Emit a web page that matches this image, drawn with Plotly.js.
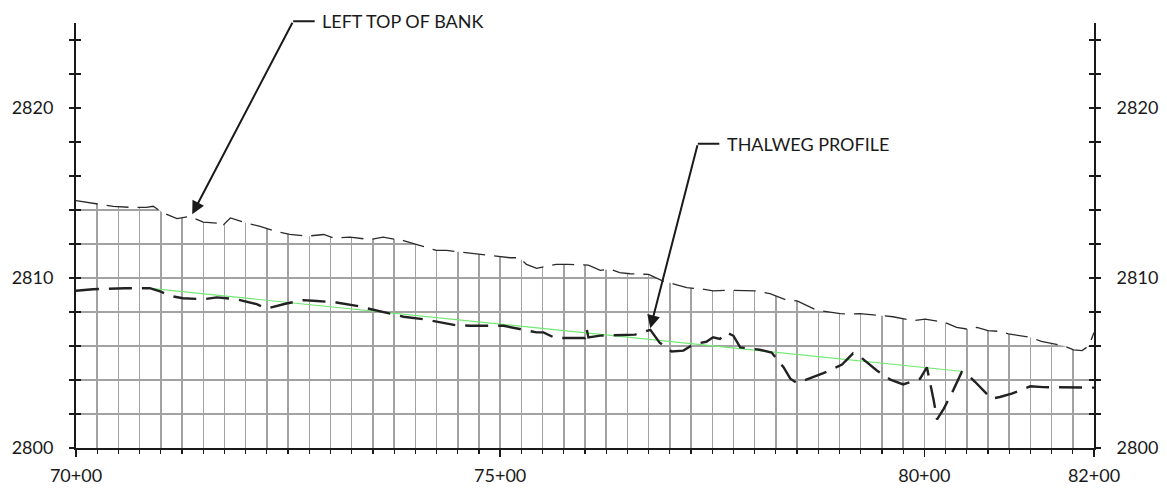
<!DOCTYPE html>
<html>
<head>
<meta charset="utf-8">
<script src="https://cdn.plot.ly/plotly-3.0.1.min.js"></script>
<style>
  html, body { margin: 0; padding: 0; background: #ffffff; }
  #chart { width: 1167px; height: 489px; }
</style>
</head>
<body>
<div id="chart"></div>
<script>
// ---------- DATA ----------
// Left top of bank profile: station (ft) and elevation (ft)
const tobStation = [7000, 7012, 7024, 7044, 7066, 7083, 7091, 7103, 7119, 7134, 7150, 7166, 7170, 7174, 7182,
  7201, 7217, 7238, 7252, 7272, 7292, 7303, 7323, 7347, 7362, 7386, 7402, 7425, 7437, 7461, 7474, 7500,
  7512, 7523, 7531, 7543, 7566, 7580, 7604, 7618, 7630, 7641, 7653, 7675, 7692, 7706, 7720, 7739, 7751,
  7767, 7781, 7802, 7818, 7838, 7850, 7873, 7901, 7910, 7924, 7950, 7963, 7987, 8001, 8024, 8038, 8050,
  8062, 8075, 8089, 8099, 8113, 8125, 8138, 8152, 8164, 8176, 8186, 8194, 8200];
const tobElev = [2814.55, 2814.45, 2814.35, 2814.21, 2814.15, 2814.15, 2814.22, 2813.82, 2813.49, 2813.63,
  2813.29, 2813.23, 2813.37, 2813.14, 2813.53, 2813.23, 2813.04, 2812.71, 2812.56, 2812.46, 2812.56,
  2812.36, 2812.40, 2812.26, 2812.40, 2812.20, 2811.97, 2811.62, 2811.62, 2811.48, 2811.42, 2811.29,
  2811.19, 2811.19, 2810.80, 2810.57, 2810.80, 2810.80, 2810.76, 2810.45, 2810.51, 2810.31, 2810.25,
  2810.21, 2809.82, 2809.63, 2809.43, 2809.34, 2809.24, 2809.28, 2809.28, 2809.24, 2809.08, 2808.70,
  2808.65, 2808.11, 2807.91, 2807.88, 2807.91, 2807.78, 2807.72, 2807.49, 2807.58, 2807.39, 2807.09,
  2807.00, 2807.09, 2806.90, 2806.86, 2806.71, 2806.61, 2806.51, 2806.27, 2806.12, 2806.02, 2805.77,
  2805.73, 2806.02, 2806.80];

// Thalweg profile: station (ft) and elevation (ft)
const thalwegStation = [7000, 7020, 7058, 7087, 7099, 7111, 7126, 7150, 7166, 7178, 7189, 7213, 7225, 7248,
  7268, 7284, 7307, 7331, 7347, 7370, 7386, 7409, 7425, 7447, 7464, 7504, 7523, 7543, 7551, 7557, 7565,
  7600, 7602, 7604, 7618, 7659, 7677, 7688, 7702, 7716, 7728, 7743, 7751, 7759, 7767, 7775, 7783, 7806,
  7820, 7834, 7842, 7850, 7866, 7881, 7903, 7916, 7926, 7944, 7960, 7975, 7995, 8003, 8011, 8015, 8023,
  8034, 8044, 8052, 8060, 8070, 8079, 8089, 8103, 8125, 8140, 8200];
const thalwegElev = [2809.25, 2809.34, 2809.40, 2809.40, 2809.22, 2808.95, 2808.81, 2808.75, 2808.86, 2808.81,
  2808.75, 2808.46, 2808.20, 2808.50, 2808.70, 2808.65, 2808.56, 2808.36, 2808.17, 2807.88, 2807.72,
  2807.58, 2807.42, 2807.23, 2807.19, 2807.19, 2807.00, 2806.80, 2806.80, 2806.67, 2806.47, 2806.47,
  2807.00, 2806.50, 2806.61, 2806.67, 2806.95, 2806.20, 2805.68, 2805.73, 2806.10, 2806.25, 2806.51,
  2806.41, 2806.80, 2806.60, 2805.92, 2805.78, 2805.62, 2804.75, 2804.08, 2803.82, 2804.13, 2804.40,
  2804.91, 2805.57, 2805.30, 2804.56, 2804.02, 2803.74, 2804.08, 2804.75, 2802.81, 2801.68, 2802.32,
  2803.39, 2804.46, 2804.27, 2803.88, 2803.39, 2802.90, 2803.00, 2803.20, 2803.63, 2803.58, 2803.55];

// Design grade line (green)
const designStation = [7085, 8046];
const designElev = [2809.40, 2804.50];

// Axis ticks / labels
const xRange = [7000, 8200];
const yRange = [2800, 2825];
const xTickVals = [7000, 7500, 8000, 8200];
const xTickText = ['70+00', '75+00', '80+00', '82+00'];
const yTickVals = [2800, 2810, 2820];
const yTickText = ['2800', '2810', '2820'];

// Callout labels
const calloutText = ['LEFT TOP OF BANK', 'THALWEG PROFILE'];
const calloutHead = [[7137, 2813.75], [7677, 2807.05]];
const calloutElbow = [[7256, 2825.1], [7733, 2817.9]];

// ---------- STYLE ----------
const ink = '#1a1a1a';
const gridCol = '#a2a2a2';
const fontFam = 'Lato, "Open Sans", sans-serif';

// White mask above the top of bank so the grid stops at the bank line
const maskX = tobStation.concat([tobStation[tobStation.length - 1], tobStation[0]]);
const maskY = tobElev.concat([yRange[1] + 5, yRange[1] + 5]);

const traces = [
  { x: maskX, y: maskY, type: 'scatter', mode: 'lines', fill: 'toself', fillcolor: '#ffffff',
    line: { width: 0, color: 'rgba(0,0,0,0)' }, hoverinfo: 'skip', showlegend: false },
  { x: designStation, y: designElev, type: 'scatter', mode: 'lines', name: 'Design',
    line: { color: '#74e874', width: 1.2 }, showlegend: false },
  { x: tobStation, y: tobElev, type: 'scatter', mode: 'lines', name: 'Left top of bank',
    line: { color: '#2a2a2a', width: 1.3, dash: '22px,9px' }, showlegend: false },
  { x: thalwegStation, y: thalwegElev, type: 'scatter', mode: 'lines', name: 'Thalweg',
    line: { color: '#222222', width: 2.4, dash: '23px,10px' }, showlegend: false }
];
// invisible anchors so the overlaid tick axes are drawn
['y2', 'y3', 'y4'].forEach(function (ax) {
  traces.push({ x: [xRange[0]], y: [yRange[0]], yaxis: ax, type: 'scatter', mode: 'markers',
    marker: { opacity: 0, size: 1 }, hoverinfo: 'skip', showlegend: false });
});

const tickFont = { family: fontFam, size: 18, color: ink };

function yAxisBase(side, ticksDir, labels, grid) {
  return {
    range: yRange, side: side, tickmode: 'array', tickvals: yTickVals, ticktext: yTickText,
    showticklabels: labels, tickfont: tickFont, ticklabelstandoff: 12,
    showline: true, linecolor: ink, linewidth: 2,
    ticks: ticksDir, ticklen: 5, tickwidth: 1.5, tickcolor: ink,
    showgrid: grid, gridcolor: gridCol, gridwidth: 1.5, zeroline: false,
    minor: { dtick: 2, tick0: yRange[0], ticks: ticksDir, ticklen: 5, tickwidth: 1.5, tickcolor: ink,
             showgrid: grid, gridcolor: gridCol, gridwidth: 1.5 },
    fixedrange: true
  };
}

const yFrac = function (v) { return (v - yRange[0]) / (yRange[1] - yRange[0]); };

const annotations = [];
for (let i = 0; i < calloutText.length; i++) {
  annotations.push({
    x: calloutHead[i][0], y: calloutHead[i][1], xref: 'x', yref: 'y',
    ax: calloutElbow[i][0], ay: calloutElbow[i][1], axref: 'x', ayref: 'y',
    text: '', showarrow: true, arrowhead: 2, arrowsize: 1.3, arrowwidth: 2, arrowcolor: ink
  });
  annotations.push({
    x: calloutElbow[i][0], y: yFrac(calloutElbow[i][1]), xref: 'x', yref: 'paper',
    ax: 110, ay: 0, text: calloutText[i], showarrow: true, arrowhead: 0, arrowwidth: 2,
    arrowcolor: ink, startstandoff: 6, font: { family: fontFam, size: 18, color: ink }
  });
}

const layout = {
  width: 1167, height: 489,
  margin: { l: 76, r: 73, t: 23, b: 41, pad: 0 },
  paper_bgcolor: '#ffffff', plot_bgcolor: '#ffffff',
  showlegend: false,
  xaxis: {
    range: xRange, tickmode: 'array', tickvals: xTickVals, ticktext: xTickText,
    tickfont: tickFont, ticklabelstandoff: 3, showline: true, linecolor: ink, linewidth: 2,
    ticks: 'outside', ticklen: 7, tickwidth: 1.5, tickcolor: ink,
    showgrid: true, gridcolor: gridCol, gridwidth: 1.5, zeroline: false,
    minor: { dtick: 25, tick0: xRange[0], ticks: 'outside', ticklen: 4, tickwidth: 1.2, tickcolor: ink,
             showgrid: true, gridcolor: gridCol, gridwidth: 1.5 },
    fixedrange: true
  },
  yaxis: yAxisBase('left', 'outside', true, true),
  yaxis2: Object.assign(yAxisBase('right', 'outside', true, false), { overlaying: 'y', anchor: 'x' }),
  yaxis3: Object.assign(yAxisBase('left', 'inside', false, false), { overlaying: 'y', anchor: 'x' }),
  yaxis4: Object.assign(yAxisBase('right', 'inside', false, false), { overlaying: 'y', anchor: 'x' }),
  annotations: annotations
};

Plotly.newPlot('chart', traces, layout, { staticPlot: true, displayModeBar: false });
</script>
</body>
</html>
